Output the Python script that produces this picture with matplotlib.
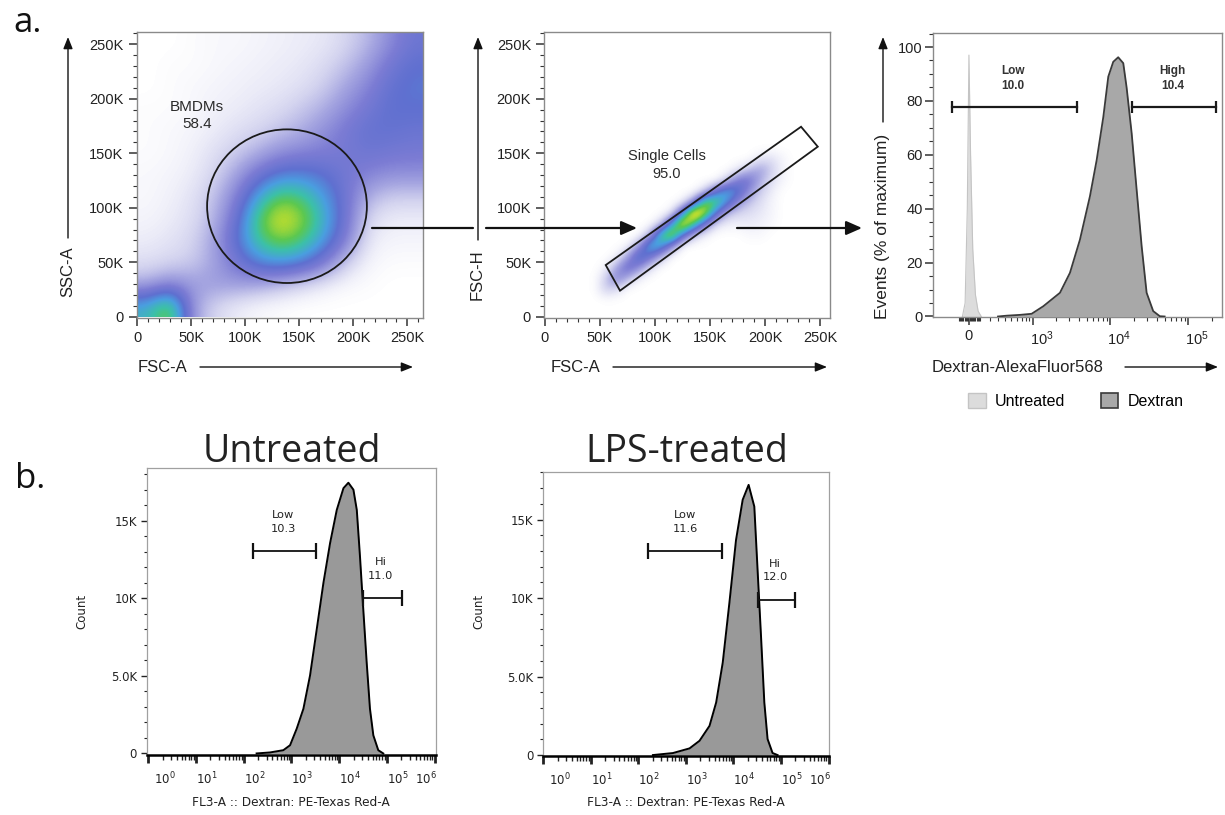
import numpy as np
import matplotlib.pyplot as plt
import matplotlib.transforms as mtransforms
from matplotlib.colors import LinearSegmentedColormap
from matplotlib.patches import Ellipse, Polygon, FancyArrowPatch, Patch
from matplotlib.ticker import FixedLocator, MultipleLocator, NullFormatter

plt.rcParams['font.family'] = ['Liberation Sans', 'DejaVu Sans']

W, H = 1225, 815

# ---------------- panel a, left: FSC-A vs SSC-A (20K bins, bottom row first)
scatter_ticks = [0, 50e3, 100e3, 150e3, 200e3, 250e3]
scatter_tick_labels = ['0', '50K', '100K', '150K', '200K', '250K']

bmdm_density = np.array([
    [0.55, 0.76, 0.22, 0.10, 0.05, 0.02, 0.01, 0.00, 0.00, 0.00, 0.00, 0.00, 0.00],
    [0.18, 0.26, 0.22, 0.22, 0.22, 0.20, 0.15, 0.10, 0.05, 0.02, 0.01, 0.00, 0.00],
    [0.08, 0.10, 0.12, 0.20, 0.32, 0.45, 0.50, 0.45, 0.32, 0.12, 0.03, 0.01, 0.01],
    [0.05, 0.07, 0.10, 0.20, 0.40, 0.62, 0.72, 0.66, 0.50, 0.30, 0.06, 0.03, 0.03],
    [0.03, 0.05, 0.08, 0.16, 0.35, 0.66, 0.82, 0.74, 0.56, 0.34, 0.10, 0.05, 0.05],
    [0.02, 0.04, 0.07, 0.14, 0.28, 0.52, 0.68, 0.64, 0.50, 0.34, 0.18, 0.12, 0.12],
    [0.02, 0.03, 0.05, 0.10, 0.20, 0.34, 0.44, 0.45, 0.40, 0.33, 0.28, 0.25, 0.25],
    [0.01, 0.02, 0.04, 0.08, 0.12, 0.18, 0.25, 0.28, 0.30, 0.32, 0.35, 0.33, 0.32],
    [0.01, 0.02, 0.03, 0.05, 0.08, 0.10, 0.14, 0.18, 0.25, 0.32, 0.38, 0.38, 0.36],
    [0.01, 0.01, 0.02, 0.04, 0.05, 0.07, 0.09, 0.13, 0.18, 0.26, 0.33, 0.40, 0.40],
    [0.00, 0.01, 0.02, 0.03, 0.04, 0.05, 0.06, 0.08, 0.12, 0.20, 0.28, 0.38, 0.42],
    [0.00, 0.01, 0.01, 0.02, 0.03, 0.04, 0.05, 0.06, 0.09, 0.14, 0.22, 0.33, 0.40],
    [0.00, 0.00, 0.01, 0.02, 0.02, 0.03, 0.04, 0.05, 0.06, 0.10, 0.16, 0.26, 0.35],
])
bmdm_extent = (0, 264.3e3, 0, 261e3)
bmdm_center = (138.6e3, 101.4e3)
bmdm_size = (148e3, 141e3)
bmdm_label = 'BMDMs\n58.4'
bmdm_label_pos = (55.3e3, 184.7e3)

# ---------------- panel a, middle: FSC-A vs FSC-H (10K bins, x 40-230K, y 10-160K)
singlet_density = np.array([
    [0, 0, 0, 0, 0, 0, 0, 0, 0, 0, 0, 0, 0, 0, 0, 0, 0, 0, 0],
    [0, 0.12, 0.08, 0, 0, 0, 0, 0, 0, 0, 0, 0, 0, 0, 0, 0, 0, 0, 0],
    [0, 0.12, 0.30, 0.15, 0.03, 0, 0, 0, 0, 0, 0, 0, 0, 0, 0, 0, 0, 0, 0],
    [0, 0.03, 0.20, 0.40, 0.25, 0.08, 0, 0, 0, 0, 0, 0, 0, 0, 0, 0, 0, 0, 0],
    [0, 0, 0.03, 0.20, 0.50, 0.35, 0.15, 0, 0, 0, 0, 0, 0, 0, 0, 0, 0, 0, 0],
    [0, 0, 0, 0.02, 0.20, 0.60, 0.55, 0.25, 0, 0, 0, 0, 0, 0, 0, 0, 0, 0, 0],
    [0, 0, 0, 0, 0, 0.15, 0.65, 0.85, 0.40, 0.12, 0.03, 0, 0, 0, 0.02, 0.02, 0, 0, 0],
    [0, 0, 0, 0, 0, 0, 0.10, 0.50, 0.95, 0.65, 0.30, 0.08, 0.04, 0.04, 0.05, 0.04, 0.02, 0, 0],
    [0, 0, 0, 0, 0, 0, 0, 0.05, 0.45, 1.00, 0.80, 0.40, 0.15, 0.10, 0.08, 0.06, 0.03, 0, 0],
    [0, 0, 0, 0, 0, 0, 0, 0, 0.03, 0.25, 0.75, 0.70, 0.48, 0.24, 0.14, 0.08, 0.03, 0, 0],
    [0, 0, 0, 0, 0, 0, 0, 0, 0, 0, 0.10, 0.38, 0.55, 0.45, 0.24, 0.12, 0.05, 0, 0],
    [0, 0, 0, 0, 0, 0, 0, 0, 0, 0, 0, 0, 0.12, 0.32, 0.35, 0.18, 0.08, 0.03, 0],
    [0, 0, 0, 0, 0, 0, 0, 0, 0, 0, 0, 0, 0, 0.05, 0.14, 0.22, 0.12, 0.03, 0],
    [0, 0, 0, 0, 0, 0, 0, 0, 0, 0, 0, 0, 0, 0, 0, 0.06, 0.08, 0.03, 0],
    [0, 0, 0, 0, 0, 0, 0, 0, 0, 0, 0, 0, 0, 0, 0, 0, 0, 0, 0],
])
singlet_extent = (40e3, 230e3, 10e3, 160e3)
singlet_gate_x = [55.2e3, 68.2e3, 247.9e3, 232.7e3]
singlet_gate_y = [47.4e3, 23.9e3, 156e3, 174.3e3]
singlet_label = 'Single Cells\n95.0'
singlet_label_pos = (110.6e3, 139.2e3)

# ---------------- panel a, right: Dextran-AlexaFluor568 histograms (% of max)
untreated_x = [-60, -35, -15, 0, 15, 35, 60, 85, 115]
untreated_y = [0, 5, 40, 97, 60, 25, 8, 2, 0]
dextran_x = [300, 422, 666, 962, 1374, 2266, 3050, 4100, 5510, 6720, 8180, 9480,
             10970, 12700, 14750, 16280, 18900, 21900, 25400, 29400, 35700, 43400, 50000]
dextran_y = [0, 0.3, 0.6, 1.0, 3.8, 8.8, 16.2, 28.5, 44.6, 58, 74, 89,
             94.5, 96.2, 94, 85, 68, 47, 26, 8.8, 2, 0.1, 0]
a3_gates = [(-165, 3720), (18900, 225e3)]
a3_gate_level = 77.8
a3_gate_labels = ['Low\n10.0', 'High\n10.4']
a3_label_x = [526, 63400]
a3_label_y = 88.2

# ---------------- panel b: FL3-A histograms (Count)
b_titles = ['Untreated', 'LPS-treated']
b1_x = [186, 355, 676, 935, 1290, 1780, 2450, 3390, 4680, 6460, 8910, 12300, 15600,
        19900, 23400, 27300, 32000, 37700, 44200, 52000, 66000, 84000]
b1_y = [0, 64, 210, 530, 1600, 2880, 5020, 8010, 11000, 13570, 15700, 17100, 17450,
        17000, 15700, 12700, 9300, 5880, 2880, 1170, 210, 0]
b2_x = [202, 531, 1190, 1930, 3130, 4320, 5940, 8200, 11300, 15600, 20800, 27400,
        32100, 37900, 44500, 52100, 66300, 84500]
b2_y = [0, 127, 425, 910, 1860, 3350, 5890, 9700, 13700, 16260, 17210, 15830,
        11800, 7580, 3350, 1020, 130, 0]
b1_gates = [(155, 3280, 13030), (31200, 205000, 10040)]
b2_gates = [(162, 5660, 13020), (32800, 198600, 9900)]
b1_gate_labels = [('Low\n10.3', 676, 14900), ('Hi\n11.0', 74500, 11900)]
b2_gate_labels = [('Low\n11.6', 967, 14830), ('Hi\n12.0', 75500, 11750)]
b_decades = [1, 10, 100, 1e3, 1e4, 1e5, 1e6]
b_decade_labels = [r'$\mathregular{10^{%d}}$' % i for i in range(7)]
b_count_ticks = [0, 5000, 10000, 15000]
b_count_labels = ['0', '5.0K', '10K', '15K']

flow_cmap = LinearSegmentedColormap.from_list('flow', [
    (0.0, '#ffffff'), (0.03, '#f4f4fb'), (0.10, '#d6d6f0'), (0.20, '#a4a4e0'),
    (0.30, '#7c7cd4'), (0.40, '#5f70d0'), (0.50, '#4a9ee0'), (0.60, '#3cc0a8'),
    (0.68, '#5cc850'), (0.76, '#b8dc30'), (0.83, '#f0e428'), (0.91, '#f49a22'),
    (1.0, '#e42a1e')])

fig = plt.figure(figsize=(W / 100, H / 100), dpi=100)


def px_box(left, top, right, bottom):
    return [left / W, 1 - bottom / H, (right - left) / W, (bottom - top) / H]


def fpt(x, y):
    return (x / W, 1 - y / H)


def fig_arrow(x0, y0, x1, y1, lw=1.0, head=True, big=False):
    if head:
        style = '-|>,head_length=0.95,head_width=0.42' if big else '-|>,head_length=0.7,head_width=0.28'
    else:
        style = '-'
    fig.add_artist(FancyArrowPatch(fpt(x0, y0), fpt(x1, y1), transform=fig.transFigure,
                                   arrowstyle=style, mutation_scale=10, lw=lw,
                                   color='#111111', shrinkA=0, shrinkB=0))


def style_a(ax):
    for s in ax.spines.values():
        s.set_color('#8a8a8a')
        s.set_linewidth(1.0)
    ax.tick_params(which='both', direction='out', colors='#333333', labelcolor='#222222',
                   labelsize=10.5, top=False, right=False)
    ax.tick_params(which='major', length=5.5, width=1.1, pad=4)
    ax.tick_params(which='minor', length=2.8, width=0.8)


def scatter_axes(ax, xlim, ylim):
    ax.set_xlim(*xlim)
    ax.set_ylim(*ylim)
    ax.xaxis.set_major_locator(FixedLocator(scatter_ticks))
    ax.yaxis.set_major_locator(FixedLocator(scatter_ticks))
    ax.set_xticklabels(scatter_tick_labels)
    ax.set_yticklabels(scatter_tick_labels)
    ax.xaxis.set_minor_locator(MultipleLocator(10e3))
    ax.yaxis.set_minor_locator(MultipleLocator(10e3))
    style_a(ax)


# ---- a1
ax1 = fig.add_axes(px_box(136.7, 32.3, 422.7, 318.3))
ax1.imshow(bmdm_density, origin='lower', extent=bmdm_extent, cmap=flow_cmap, vmin=0, vmax=1,
           interpolation='bicubic', aspect='auto', zorder=0)
ax1.add_patch(Ellipse(bmdm_center, bmdm_size[0], bmdm_size[1], fill=False, ec='#1a1a1a', lw=1.3))
ax1.text(*bmdm_label_pos, bmdm_label, ha='center', va='center', fontsize=11,
         color='#2a2a2a', linespacing=1.35)
scatter_axes(ax1, (-0.6e3, 264.3e3), (-1.5e3, 261e3))

# ---- a2
ax2 = fig.add_axes(px_box(544.3, 31.7, 830, 317.7))
ax2.imshow(singlet_density, origin='lower', extent=singlet_extent, cmap=flow_cmap, vmin=0, vmax=1,
           interpolation='bicubic', aspect='auto', zorder=0)
ax2.add_patch(Polygon(np.column_stack([singlet_gate_x, singlet_gate_y]), closed=True,
                      fill=False, ec='#1a1a1a', lw=1.3))
ax2.text(*singlet_label_pos, singlet_label, ha='center', va='center', fontsize=10.5,
         color='#2a2a2a', linespacing=1.35)
scatter_axes(ax2, (-0.6e3, 259e3), (-0.9e3, 261.5e3))

# ---- a3
ax3 = fig.add_axes(px_box(933, 33, 1222, 317.3))
ax3.set_xscale('function', functions=(lambda v: np.arcsinh(np.asarray(v) / 310.0),
                                      lambda u: 310.0 * np.sinh(np.asarray(u))))
ax3.fill_between(untreated_x, untreated_y, color='#dcdcdc', lw=0, zorder=2)
ax3.plot(untreated_x, untreated_y, color='#c4c4c4', lw=0.8, zorder=2)
ax3.fill_between(dextran_x, dextran_y, color='#a8a8a8', lw=0, zorder=3)
ax3.plot(dextran_x, dextran_y, color='#3a3a3a', lw=1.3, zorder=3)
for (g0, g1), lab, lx in zip(a3_gates, a3_gate_labels, a3_label_x):
    ax3.plot([g0, g1], [a3_gate_level, a3_gate_level], color='#1a1a1a', lw=1.6, zorder=4)
    ax3.plot([g0, g1], [a3_gate_level, a3_gate_level], ls='none', marker='|', ms=9, mew=1.6,
             color='#1a1a1a', zorder=4)
    ax3.text(lx, a3_label_y, lab, ha='center', va='center', fontsize=8.5, fontweight='bold',
             color='#333333', linespacing=1.3)
ax3.set_xlim(-394, 2.72e5)
ax3.set_ylim(-0.3, 105.2)
ax3.xaxis.set_major_locator(FixedLocator([0, 1e3, 1e4, 1e5]))
ax3.set_xticklabels(['0', r'$\mathregular{10^3}$', r'$\mathregular{10^4}$', r'$\mathregular{10^5}$'])
a3_minor = (list(range(-90, 0, 10)) + list(range(10, 100, 10)) + list(range(100, 1000, 100))
            + [k * 1e3 for k in range(2, 10)] + [k * 1e4 for k in range(2, 10)] + [2e5])
ax3.xaxis.set_minor_locator(FixedLocator(a3_minor))
ax3.xaxis.set_minor_formatter(NullFormatter())
ax3.yaxis.set_major_locator(MultipleLocator(20))
ax3.yaxis.set_minor_locator(MultipleLocator(5))
style_a(ax3)
ax3.tick_params(axis='y', which='major', pad=2)
ax3.tick_params(axis='x', which='major', labelsize=10.5, pad=3)
for i, lbl in enumerate(ax3.get_xticklabels()):
    if i > 0:
        lbl.set_ha('left')
        lbl.set_transform(lbl.get_transform() + mtransforms.ScaledTranslation(-0.03, 0, fig.dpi_scale_trans))

# ---- axis labels and arrows for panel a
fig.text(*fpt(138, 367), 'FSC-A', ha='left', va='center', fontsize=12, color='#222222')
fig_arrow(200, 367, 413, 367)
fig.text(*fpt(68, 272), 'SSC-A', rotation=90, ha='center', va='center', fontsize=12, color='#222222')
fig_arrow(68, 238, 68, 37)
fig.text(*fpt(551, 367), 'FSC-A', ha='left', va='center', fontsize=12, color='#222222')
fig_arrow(613, 367, 827, 367)
fig.text(*fpt(477, 275), 'FSC-H', rotation=90, ha='center', va='center', fontsize=12, color='#222222')
fig_arrow(478, 240, 478, 37)
fig.text(*fpt(883, 226), 'Events (% of maximum)', rotation=90, ha='center', va='center',
         fontsize=12.5, color='#222222')
fig_arrow(883, 122, 883, 37)
fig.text(*fpt(932, 367), 'Dextran-AlexaFluor568', ha='left', va='center', fontsize=12, color='#222222')
fig_arrow(1125, 367, 1218, 367)

fig_arrow(372, 228, 473, 228, lw=1.6, head=False)
fig_arrow(486, 228, 637, 228, lw=1.6, big=True)
fig_arrow(737, 228, 862, 228, lw=1.6, big=True)

fig.legend(handles=[Patch(fc='#dcdcdc', ec='#c4c4c4'), Patch(fc='#a8a8a8', ec='#3a3a3a', lw=1.2)],
           labels=['Untreated', 'Dextran'], loc='center', bbox_to_anchor=fpt(1076, 401),
           ncol=2, frameon=False, fontsize=11.5, handlelength=1.1, handleheight=1.1,
           columnspacing=2.2, handletextpad=0.6)

fig.text(13 / W, 1 - 31.7 / H, 'a.', fontsize=25, family='Open Sans', color='#111111', va='baseline')
fig.text(15 / W, 1 - 488 / H, 'b.', fontsize=25, family='Open Sans', color='#111111', va='baseline')


# ---- panel b
def b_panel(box, xs, ys, gates, gate_labels, title, xlim, ylim, title_x, count_x):
    ax = fig.add_axes(px_box(*box))
    ax.set_xscale('log')
    ax.fill_between(xs, ys, color='#999999', lw=0, zorder=2)
    ax.plot(xs, ys, color='black', lw=1.4, zorder=3)
    for g0, g1, gy in gates:
        ax.plot([g0, g1], [gy, gy], color='#111111', lw=1.3, zorder=4)
        ax.plot([g0, g1], [gy, gy], ls='none', marker='|', ms=11, mew=1.6, color='#111111', zorder=4)
    for lab, lx, ly in gate_labels:
        ax.text(lx, ly, lab, ha='center', va='center', fontsize=8.2, family='DejaVu Sans',
                color='#222222', linespacing=1.45)
    ax.set_xlim(*xlim)
    ax.set_ylim(*ylim)
    ax.xaxis.set_major_locator(FixedLocator(b_decades))
    ax.set_xticklabels(b_decade_labels)
    ax.xaxis.set_minor_locator(FixedLocator([k * 10.0 ** e for e in range(6) for k in range(2, 10)]))
    ax.xaxis.set_minor_formatter(NullFormatter())
    ax.yaxis.set_major_locator(FixedLocator(b_count_ticks))
    ax.set_yticklabels(b_count_labels)
    ax.yaxis.set_minor_locator(MultipleLocator(1000))
    for side in ('top', 'right', 'left'):
        ax.spines[side].set_color('#a0a0a0')
        ax.spines[side].set_linewidth(0.9)
    ax.spines['bottom'].set_color('black')
    ax.spines['bottom'].set_linewidth(1.8)
    ax.tick_params(which='both', direction='out', colors='#222222', labelsize=8.5,
                   labelfontfamily='DejaVu Sans', top=False, right=False)
    ax.tick_params(axis='x', which='major', length=6, width=2.0, pad=5)
    ax.tick_params(axis='x', which='minor', length=3.5, width=1.0)
    ax.tick_params(axis='y', which='major', length=4, width=1.0, pad=3)
    ax.tick_params(axis='y', which='minor', length=2.5, width=0.8)
    labels = ax.get_xticklabels()
    for i, lbl in enumerate(labels):
        if i == len(labels) - 1:
            lbl.set_ha('right')
            shift = 0.02
        else:
            lbl.set_ha('left')
            shift = 0.0 if i > 0 else 0.06
        lbl.set_transform(lbl.get_transform() + mtransforms.ScaledTranslation(shift, 0, fig.dpi_scale_trans))
    cx = (box[0] + box[2]) / 2
    fig.text(*fpt(cx, 802), 'FL3-A :: Dextran: PE-Texas Red-A', ha='center', va='center',
             fontsize=8.7, family='DejaVu Sans', color='#222222')
    fig.text(*fpt(count_x, 611), 'Count', rotation=90, ha='center', va='center',
             fontsize=8.5, family='DejaVu Sans', color='#222222')
    fig.text(*fpt(title_x, 462), title, ha='center', va='baseline', fontsize=27,
             family='Open Sans', color='#222222')
    return ax


b_panel((146.7, 468, 436, 755), b1_x, b1_y, b1_gates, b1_gate_labels, b_titles[0],
        (0.925, 1.07e6), (-100, 18400), 292, 82)
b_panel((543, 472, 829, 756), b2_x, b2_y, b2_gates, b2_gate_labels, b_titles[1],
        (0.985, 1.02e6), (-60, 18030), 687, 479)

fig.savefig('out.png', dpi=100)
